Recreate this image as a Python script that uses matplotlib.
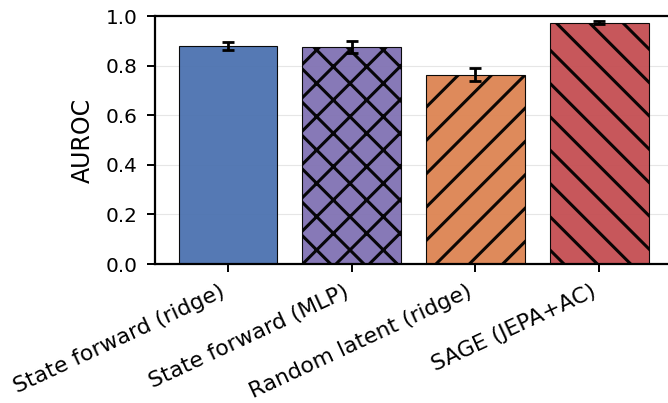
import numpy as np
import matplotlib.pyplot as plt

# AUROC per probe
methods = ["State forward (ridge)", "State forward (MLP)",
           "Random latent (ridge)", "SAGE (JEPA+AC)"]
auroc = [0.879, 0.876, 0.763, 0.973]
auroc_err = [0.017, 0.025, 0.026, 0.006]
colors = ["#4C72B0", "#8172B3", "#DD8452", "#C44E52"]
hatches = ["", "xx", "//", "\\\\"]

plt.rcParams["hatch.linewidth"] = 1.1
plt.rcParams["hatch.color"] = "black"

fig = plt.figure(figsize=(3.34, 2.015), dpi=200)
ax = fig.add_axes([155 / 668, 1 - 264 / 403, 517 / 668, 248 / 403])

x = np.arange(len(methods))
bars = ax.bar(x, auroc, width=0.8, color=colors, alpha=0.95,
              edgecolor="black", linewidth=0.4, zorder=2)
for b, h in zip(bars, hatches):
    b.set_hatch(h)
ax.errorbar(x, auroc, yerr=auroc_err, fmt="none", ecolor="black",
            elinewidth=1.0, capsize=2.0, capthick=1.0, zorder=3)

ax.set_ylim(0, 1.0)
ax.set_yticks(np.arange(0, 1.01, 0.2))
ax.set_ylabel("AUROC", fontsize=8.5)
ax.set_xticks(x)
ax.set_xticklabels(methods, rotation=25, ha="right", fontsize=7.9)
ax.tick_params(axis="y", labelsize=7.2)
ax.tick_params(length=2.8, width=0.7)
ax.yaxis.grid(True, color="#e6e6e6", linewidth=0.4, zorder=0)
ax.set_axisbelow(True)
for s in ax.spines.values():
    s.set_linewidth(0.8)

fig.savefig("out.png", dpi=200)
